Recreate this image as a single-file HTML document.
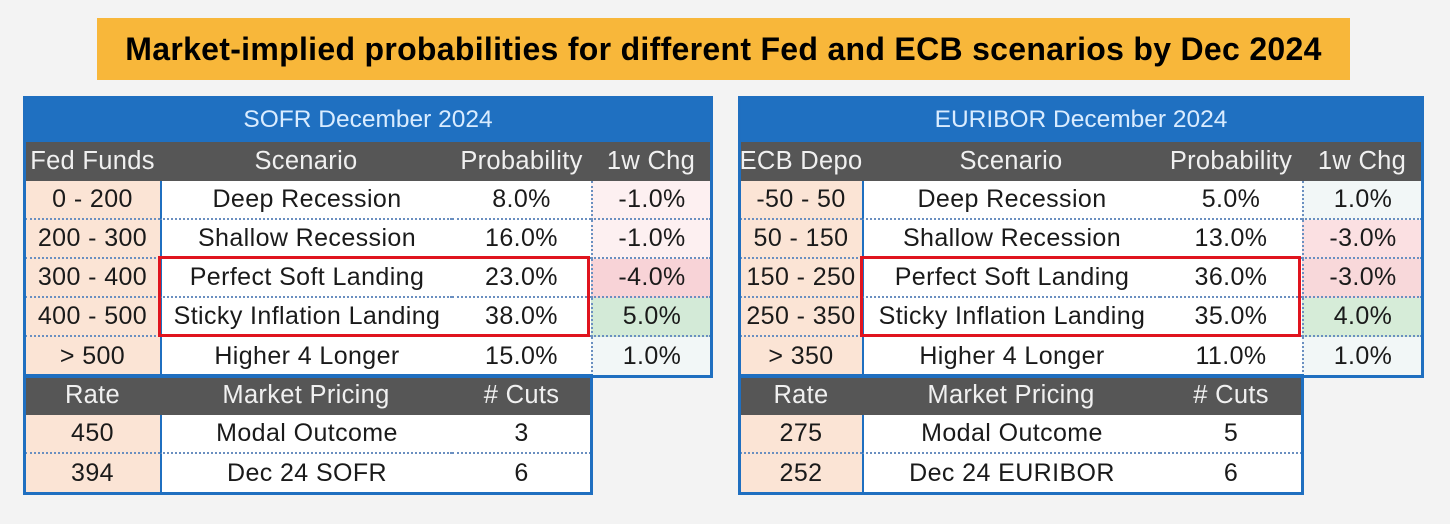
<!DOCTYPE html>
<html><head><meta charset="utf-8">
<style>
body{margin:0;width:1450px;height:524px;background:#f3f3f3;font-family:"Liberation Sans",sans-serif;position:relative;overflow:hidden}
.b{position:absolute;box-sizing:border-box;display:flex;align-items:center;justify-content:center;font-size:25px;letter-spacing:0.4px;color:#1a1a1a;white-space:nowrap}
.t{background:#1f70c1;color:#d9ecff;font-size:24.5px;letter-spacing:0}
.h{background:#565656;color:#f0f0f0;font-size:25.5px;letter-spacing:0.3px}
.p{background:#fbe4d5}
.w{background:#fff}
.dot{border-bottom:2px dotted #6a8fc0}
.frame{position:absolute;border:3px solid #1f6fc0;box-sizing:border-box}
.red{position:absolute;border:3px solid #e0141e;box-sizing:border-box}
</style></head><body>
<div class="b" style="left:97px;top:18px;width:1253px;height:62px;background:#f8b73a;font-weight:bold;font-size:32px;letter-spacing:0.3px;color:#000">Market-implied probabilities for different Fed and ECB scenarios by Dec 2024</div>
<div id="root"></div>
<script>
const tables=[
{name:'sofr',x:25,cols:[135,292,139,120],title:'SOFR December 2024',head:['Fed Funds','Scenario','Probability','1w Chg'],
 ranges:['0 - 200','200 - 300','300 - 400','400 - 500','> 500'],
 scen:['Deep Recession','Shallow Recession','Perfect Soft Landing','Sticky Inflation Landing','Higher 4 Longer'],
 prob:['8.0%','16.0%','23.0%','38.0%','15.0%'],chg:['-1.0%','-1.0%','-4.0%','5.0%','1.0%'],
 chgc:['#fdf0f1','#fdf0f1','#f8d3d7','#d3ead7','#f2f7f7'],
 rate:['450','394'],pricing:['Modal Outcome','Dec 24 SOFR'],cuts:['3','6']},
{name:'euribor',x:740,cols:[122,298,142,120],title:'EURIBOR December 2024',head:['ECB Depo','Scenario','Probability','1w Chg'],
 ranges:['-50 - 50','50 - 150','150 - 250','250 - 350','> 350'],
 scen:['Deep Recession','Shallow Recession','Perfect Soft Landing','Sticky Inflation Landing','Higher 4 Longer'],
 prob:['5.0%','13.0%','36.0%','35.0%','11.0%'],chg:['1.0%','-3.0%','-3.0%','4.0%','1.0%'],
 chgc:['#f2f7f7','#fbe0e2','#f8d8da','#d6ecd8','#f2f7f7'],
 rate:['275','252'],pricing:['Modal Outcome','Dec 24 EURIBOR'],cuts:['5','6']}
];
const root=document.getElementById('root');
function cell(name,cls,x,y,w,h,txt,bg){
 const d=document.createElement('div');
 d.className='b '+cls;
 d.style.cssText=`left:${x}px;top:${y}px;width:${w}px;height:${h}px;`+(bg?`background:${bg};`:'');
 d.textContent=txt;
 
 
 root.appendChild(d);return d;
}
tables.forEach(T=>{
 const c=T.cols,x0=T.x,tw=c[0]+c[1]+c[2]+c[3];
 const xs=[x0,x0+c[0],x0+c[0]+c[1],x0+c[0]+c[1]+c[2]];
 cell(T.name+'-title','t',x0,98,tw,44,T.title);
 T.head.forEach((h,i)=>cell(T.name+'-header','h',xs[i],142,c[i],39,h));
 for(let r=0;r<5;r++){
  const y=181+r*39;
  cell(T.name+'-range','p'+(r<4?' dot':''),xs[0],y,c[0],39,T.ranges[r]);
  const s=cell(T.name+'-scenario','w'+(r<4?' dot':''),xs[1],y,c[1],39,T.scen[r]);
  s.style.borderLeft='2px solid #1f6fc0';
  cell(T.name+'-probability','w'+(r<4?' dot':''),xs[2],y,c[2],39,T.prob[r]);
  const g=cell(T.name+'-change',(r<4?'dot':''),xs[3],y,c[3],39,T.chg[r],T.chgc[r]);
  g.style.borderLeft='2px dotted #6a8fc0';
 }
 const lw=c[0]+c[1]+c[2];
 cell(T.name+'-pricing-header','h',xs[0],376,c[0],39,'Rate');
 cell(T.name+'-pricing-header','h',xs[1],376,c[1],39,'Market Pricing');
 cell(T.name+'-pricing-header','h',xs[2],376,c[2],39,'# Cuts');
 for(let r=0;r<2;r++){
  const y=415+r*39;
  cell(T.name+'-rate','p'+(r<1?' dot':''),xs[0],y,c[0],39,T.rate[r]);
  const s=cell(T.name+'-pricing','w'+(r<1?' dot':''),xs[1],y,c[1],39,T.pricing[r]);
  s.style.borderLeft='2px solid #1f6fc0';
  cell(T.name+'-cuts','w'+(r<1?' dot':''),xs[2],y,c[2],39,T.cuts[r]);
 }
 const f1=document.createElement('div');f1.className='frame';
 f1.style.cssText=`left:${x0-2}px;top:96px;width:${tw+4}px;height:282px;`;
 
 
 root.appendChild(f1);
 const f2=document.createElement('div');f2.className='frame';
 f2.style.cssText=`left:${x0-2}px;top:374px;width:${lw+4}px;height:121px;`;
 
 
 root.appendChild(f2);
 const rb=document.createElement('div');rb.className='red';
 rb.style.cssText=`left:${xs[1]-2}px;top:256px;width:${c[1]+c[2]+1}px;height:81px;`;
 
 
 root.appendChild(rb);
});
</script>
</body></html>
